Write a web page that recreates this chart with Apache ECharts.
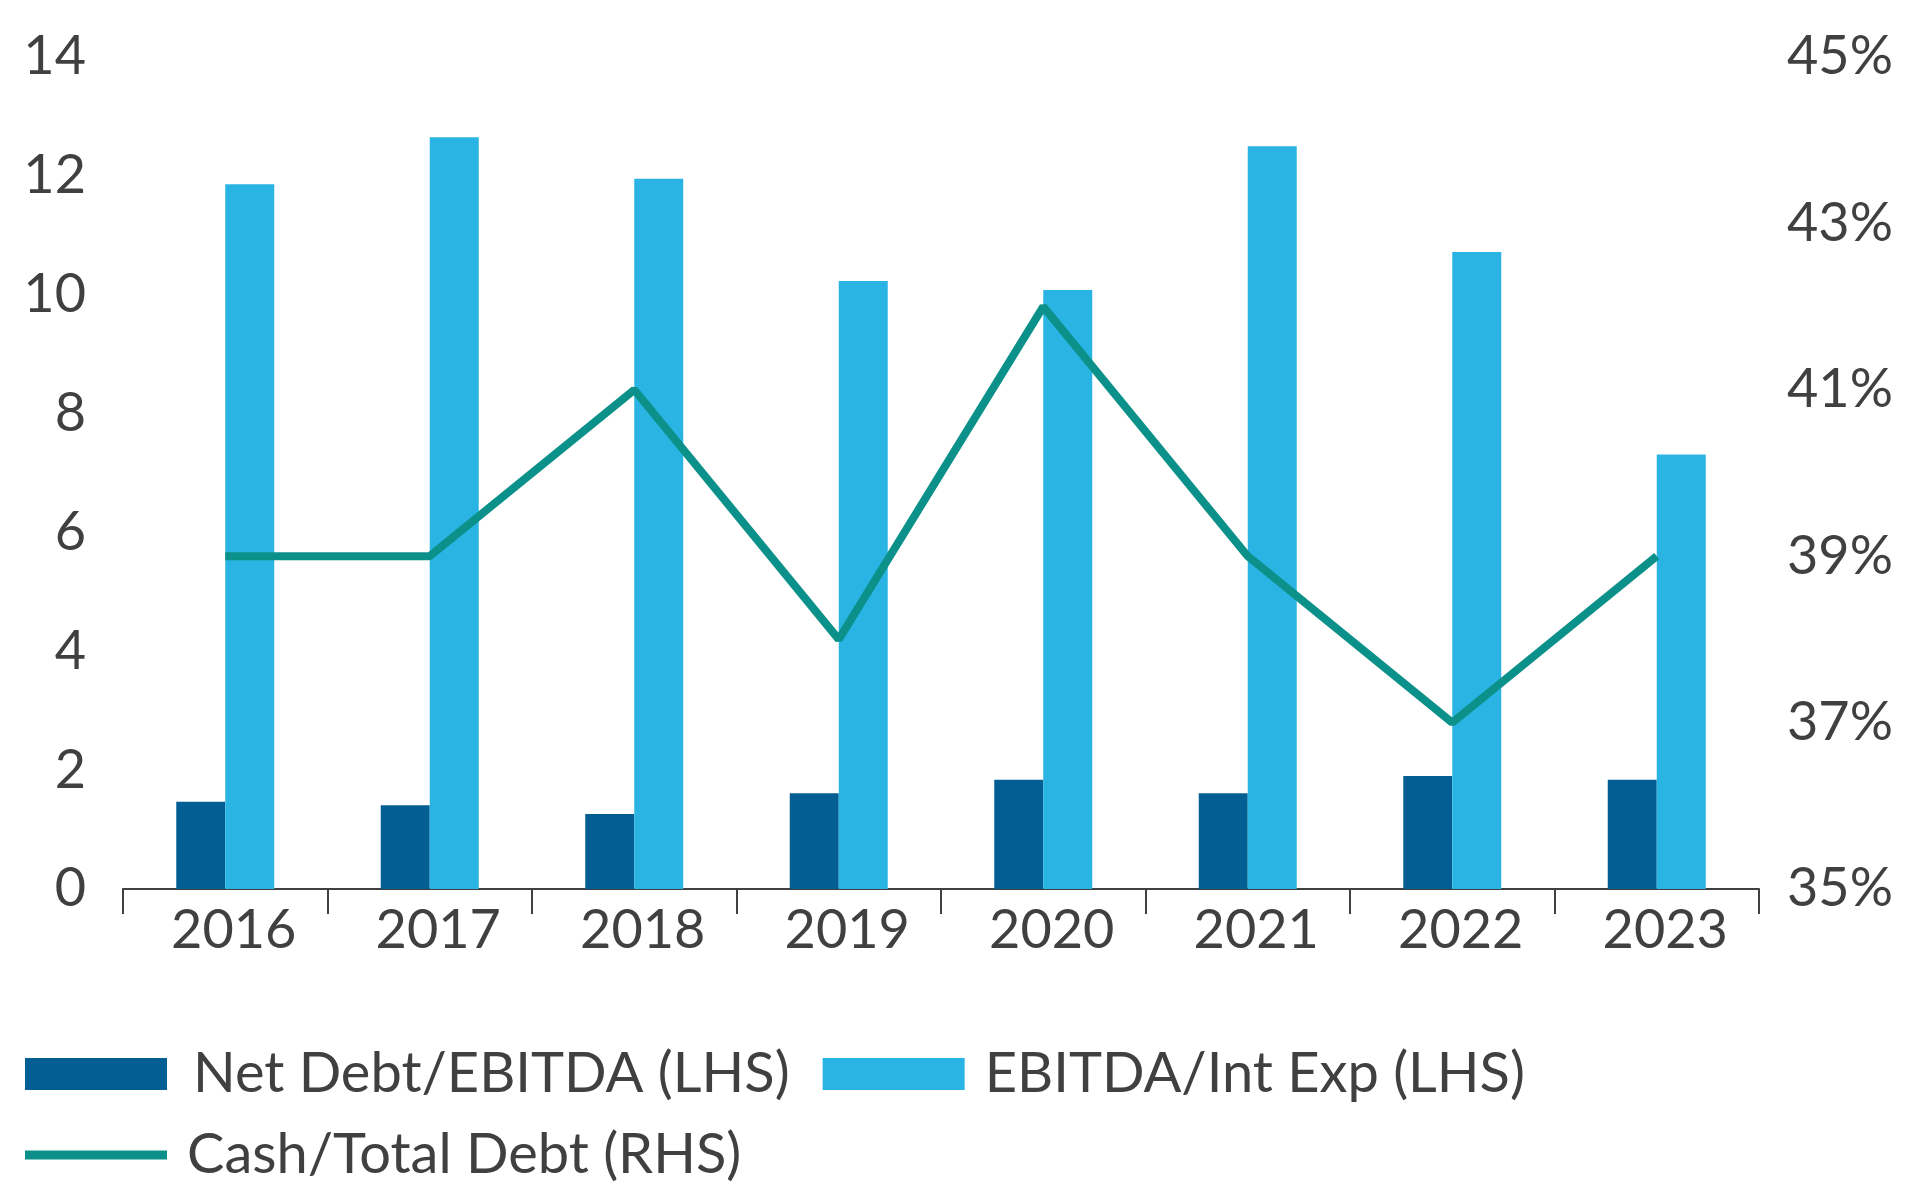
<!DOCTYPE html>
<html>
<head>
<meta charset="utf-8">
<script src="https://cdn.jsdelivr.net/npm/echarts@6/dist/echarts.min.js"></script>
<style>
html,body{margin:0;padding:0;background:#fff;}
#chart{width:1921px;height:1193px;}
</style>
</head>
<body>
<div id="chart"></div>
<script>
const categories = ['2016','2017','2018','2019','2020','2021','2022','2023'];
const netDebtEbitda = [1.47, 1.41, 1.26, 1.61, 1.84, 1.61, 1.90, 1.84];
const ebitdaIntExp = [11.86, 12.65, 11.95, 10.23, 10.08, 12.50, 10.72, 7.31];
const cashTotalDebt = [39, 39, 41, 38, 42, 39, 37, 39];
const leftTicks = {min: 0, max: 14, interval: 2};
const rightTicks = {min: 35, max: 45, interval: 2};

const FONT = 'Lato';
const TXT = '#404040';
const TEAL = '#0b9189';
const chart = echarts.init(document.getElementById('chart'));
chart.setOption({
  backgroundColor: '#fff',
  animation: false,
  grid: {left: 123, right: 162, top: 57, bottom: 304},
  legend: [{
    data: [
      {name: 'Net Debt/EBITDA (LHS)', textStyle: {padding: [0,0,0,21]}},
      {name: 'EBITDA/Int Exp (LHS)', textStyle: {padding: [0,0,0,15]}}
    ],
    left: 25, top: 1044, padding: 0,
    itemWidth: 142, itemHeight: 32, itemGap: 33,
    textStyle: {fontFamily: FONT, fontSize: 56, color: TXT, lineHeight: 60},
    icon: 'rect'
  }, {
    data: [{name: 'Cash/Total Debt (RHS)', textStyle: {padding: [0,0,0,15]}}],
    left: 25, top: 1125, padding: 0,
    itemWidth: 142, itemHeight: 9, icon: 'rect',
    itemStyle: {color: TEAL},
    textStyle: {fontFamily: FONT, fontSize: 56, color: TXT, lineHeight: 60}
  }],
  xAxis: {
    type: 'category',
    data: categories,
    axisLine: {lineStyle: {color: '#404040', width: 2}},
    axisTick: {show: true, length: 25, lineStyle: {color: '#404040', width: 2}},
    axisLabel: {fontFamily: FONT, fontSize: 54, color: TXT, margin: 15, padding: [0,0,0,17]}
  },
  yAxis: [{
    type: 'value', min: leftTicks.min, max: leftTicks.max, interval: leftTicks.interval,
    axisLine: {show: false}, axisTick: {show: false}, splitLine: {show: false},
    axisLabel: {fontFamily: FONT, fontSize: 54, color: TXT, margin: 37}
  }, {
    type: 'value', min: rightTicks.min, max: rightTicks.max, interval: rightTicks.interval,
    position: 'right',
    axisLine: {show: false}, axisTick: {show: false}, splitLine: {show: false},
    axisLabel: {fontFamily: FONT, fontSize: 54, color: TXT, margin: 28, formatter: '{value}%'}
  }],
  series: [{
    name: 'Net Debt/EBITDA (LHS)', type: 'bar', data: netDebtEbitda,
    barWidth: 49, barGap: '0%',
    itemStyle: {color: '#035f93'}
  }, {
    name: 'EBITDA/Int Exp (LHS)', type: 'bar', data: ebitdaIntExp,
    barWidth: 49, barGap: '0%',
    itemStyle: {color: '#29b4e3'}
  }, {
    name: 'Cash/Total Debt (RHS)', type: 'line', yAxisIndex: 1, data: cashTotalDebt,
    symbol: 'none', showSymbol: false,
    lineStyle: {color: TEAL, width: 8},
    itemStyle: {color: TEAL},
    z: 5
  }]
});
</script>
</body>
</html>
